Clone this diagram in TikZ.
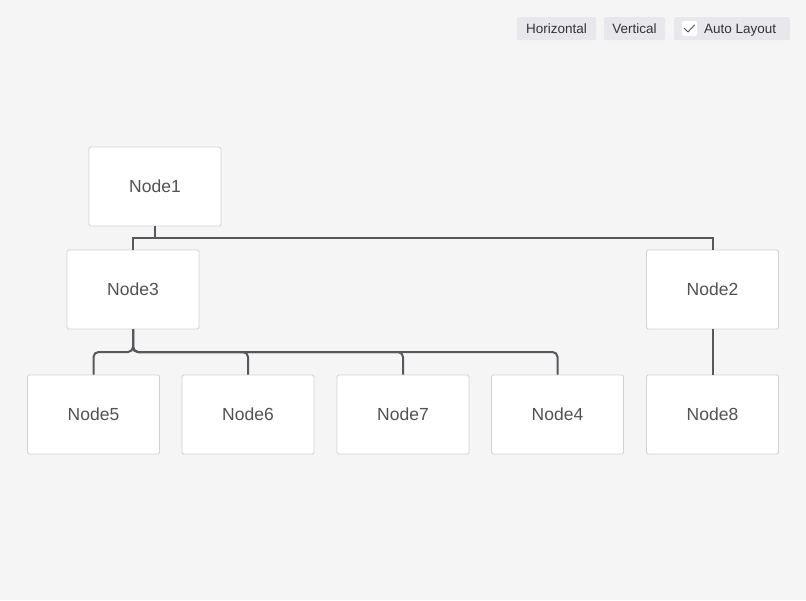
\documentclass[tikz,border=0pt]{standalone}
\usepackage{fontspec}
\setmainfont{Liberation Sans}
\begin{document}
\begin{tikzpicture}[x=1pt,y=-1pt]

    \definecolor{canvasbg}{HTML}{F5F5F5}
    \definecolor{boxline}{HTML}{D2D2D2}
    \definecolor{linkcol}{HTML}{58585C}
    \definecolor{btnbg}{HTML}{E8E8EC}
    \tikzset{
      treenode/.style={
        draw=boxline,
        fill=white,
        line width=0.8pt,
        rounded corners=1.5pt,
        minimum width=132pt,
        minimum height=79pt,
        inner sep=0pt,
        text=black!68,
        font=\fontsize{17.5}{20}\selectfont,
      },
      toolbtn/.style={
        fill=btnbg,
        rounded corners=2pt,
        minimum height=23pt,
        inner sep=0pt,
        text=black!80,
        font=\fontsize{13.5}{16}\selectfont,
      },
      link/.style={
        draw=linkcol,
        line width=2pt,
      },
    }
    \fill[canvasbg] (0,0) rectangle (806,600);
    \useasboundingbox (0,0) rectangle (806,600);

	% toolbar
	\node[toolbtn, minimum width=79pt] (btnH) at (556.5,28.5) {Horizontal};
	\node[toolbtn, minimum width=61pt] (btnV) at (634.5,28.5) {Vertical};
	\node[toolbtn, minimum width=116pt] (btnA) at (732,28.5) {};
	\node[fill=white, rounded corners=1.5pt, minimum size=15pt, inner sep=0pt] (chk) at (689.5,28.5) {};
	\draw[black!70, line width=0.9pt, line cap=round, line join=round] (684.5,28.5)--(688,32)--(694.5,25);
	\node[anchor=base west, inner sep=0pt, text=black!80, font=\fontsize{13.5}{16}\selectfont] (lblA) at (704,33.3) {Auto Layout};

	% tree nodes
	\node[treenode] (n1) at (155,186.5) {Node1};
	\node[treenode] (n3) at (133,289.5) {Node3};
	\node[treenode] (n2) at (712.5,289.5) {Node2};
	\node[treenode] (n5) at (93.5,414.5) {Node5};
	\node[treenode] (n6) at (248,414.5) {Node6};
	\node[treenode] (n7) at (403,414.5) {Node7};
	\node[treenode] (n4) at (557.5,414.5) {Node4};
	\node[treenode] (n8) at (712.5,414.5) {Node8};

	% connectors
	\coordinate (j1) at (155,238);
	\coordinate (j3) at (133,352);
	\draw[link] (n1.south)--(j1) -| (n3.north);
	\draw[link] (j1) -| (n2.north);
	\draw[link] (n2.south)--(n8.north);
	\foreach \child in {n5,n6,n7,n4}{
	  \draw[link, rounded corners=5pt] (n3.south)--(j3) -| (\child.north);
	}

\end{tikzpicture}
\end{document}
